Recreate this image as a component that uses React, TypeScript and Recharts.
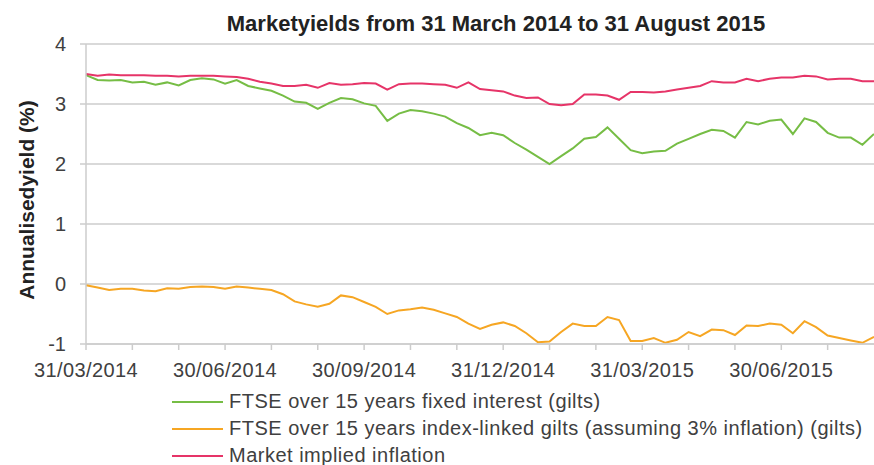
import { CartesianGrid, Line, LineChart, XAxis, YAxis } from "recharts";

// month offsets from 31/03/2014 (one point per quarter month)
const STEP = 0.25;

const fixedInterest = [
  3.48, 3.4, 3.39, 3.4, 3.36, 3.37, 3.32, 3.36, 3.31, 3.4, 3.43, 3.41, 3.34, 3.4, 3.3, 3.26, 3.22,
  3.14, 3.04, 3.02, 2.92, 3.02, 3.1, 3.08, 3.01, 2.97, 2.72, 2.84, 2.9, 2.88, 2.84, 2.79, 2.68, 2.6,
  2.48, 2.52, 2.48, 2.35, 2.24, 2.12, 2.0, 2.13, 2.26, 2.42, 2.45, 2.61, 2.42, 2.23, 2.18, 2.21, 2.22,
  2.34, 2.42, 2.5, 2.57, 2.55, 2.44, 2.7, 2.66, 2.72, 2.74, 2.5, 2.76, 2.7, 2.52, 2.44, 2.44, 2.32, 2.5,
];

const indexLinked = [
  -0.02, -0.06, -0.1, -0.08, -0.08, -0.11, -0.12, -0.07, -0.08, -0.05, -0.04, -0.05, -0.08, -0.04,
  -0.06, -0.08, -0.1, -0.17, -0.29, -0.34, -0.38, -0.33, -0.19, -0.22, -0.3, -0.38, -0.5, -0.44, -0.42,
  -0.39, -0.43, -0.49, -0.55, -0.66, -0.75, -0.68, -0.64, -0.7, -0.82, -0.97, -0.96, -0.8, -0.66, -0.7,
  -0.7, -0.55, -0.6, -0.95, -0.95, -0.9, -0.98, -0.93, -0.8, -0.87, -0.76, -0.77, -0.85, -0.69, -0.7,
  -0.66, -0.68, -0.82, -0.62, -0.72, -0.86, -0.9, -0.94, -0.98, -0.88,
];

const impliedInflation = [
  3.5, 3.47, 3.49, 3.48, 3.48, 3.48, 3.47, 3.47, 3.46, 3.47, 3.47, 3.47, 3.46, 3.45, 3.42, 3.37, 3.34,
  3.3, 3.3, 3.32, 3.27, 3.35, 3.32, 3.33, 3.35, 3.34, 3.24, 3.33, 3.34, 3.34, 3.33, 3.32, 3.27, 3.36,
  3.25, 3.23, 3.21, 3.14, 3.1, 3.11, 3.0, 2.98, 3.0, 3.16, 3.16, 3.14, 3.07, 3.2, 3.2, 3.19, 3.21,
  3.24, 3.27, 3.3, 3.38, 3.36, 3.36, 3.42, 3.38, 3.42, 3.44, 3.44, 3.47, 3.46, 3.41, 3.42, 3.42, 3.38, 3.38,
];

const quarterLabels = ["31/03/2014", "30/06/2014", "30/09/2014", "31/12/2014", "31/03/2015", "30/06/2015"];
const monthTicks = [0, 1, 2, 3, 4, 5, 6, 7, 8, 9, 10, 11, 12, 13, 14, 15, 16];
const yTicks = [-1, 0, 1, 2, 3, 4];

const series = [
  { key: "fixed", name: "FTSE over 15 years fixed interest (gilts)", color: "#76bd45" },
  { key: "linked", name: "FTSE over 15 years index-linked gilts (assuming 3% inflation) (gilts)", color: "#f6a623" },
  { key: "inflation", name: "Market implied inflation", color: "#e63468" },
];

const data = fixedInterest.map((v, i) => ({
  t: i * STEP,
  fixed: v,
  linked: indexLinked[i],
  inflation: impliedInflation[i],
}));

const FONT = '"Liberation Sans", Arial, sans-serif';
const TEXT = "#404040";
const GRID = "#cccccc";

function MonthTick({ x, y, payload }: any) {
  const v = payload.value as number;
  if (v % 3 !== 0) return null;
  return (
    <text
      x={x}
      y={y + 27}
      textAnchor="middle"
      fill={TEXT}
      fontSize={20}
      fontFamily={FONT}
      letterSpacing={0.4}
    >
      {quarterLabels[v / 3]}
    </text>
  );
}

export default function App() {
  return (
    <div style={{ position: "absolute", left: 0, top: 0, width: 874, height: 465, background: "#fff", fontFamily: FONT }}>
      <div
        style={{
          position: "absolute",
          top: 12,
          left: 0,
          width: 992,
          textAlign: "center",
          fontSize: 22,
          fontWeight: "bold",
          color: "#222",
          lineHeight: "23px",
          whiteSpace: "nowrap",
        }}
      >
        Marketyields from 31 March 2014 to 31 August 2015
      </div>
      <LineChart width={874} height={465} data={data} margin={{ top: 44, right: 0, left: 0, bottom: 81 }}>
        <CartesianGrid vertical={false} stroke={GRID} strokeWidth={1.5} />
        <XAxis
          dataKey="t"
          type="number"
          domain={[0, 17]}
          ticks={monthTicks}
          interval={0}
          height={40}
          tick={<MonthTick />}
          tickSize={6}
          tickMargin={0}
          stroke={GRID}
          strokeWidth={1.5}
        />
        <YAxis
          width={86}
          domain={[-1, 4]}
          ticks={yTicks}
          interval={0}
          tickSize={6}
          tickMargin={14}
          tick={{ fill: TEXT, fontSize: 20, fontFamily: FONT }}
          stroke={GRID}
          strokeWidth={1.5}
          label={{
            content: () => (
              <text
                x={0}
                y={0}
                transform="translate(34 200) rotate(-90)"
                textAnchor="middle"
                fill="#222"
                fontSize={21}
                fontWeight="bold"
                fontFamily={FONT}
              >
                Annualisedyield (%)
              </text>
            ),
          }}
        />
        {series.map((s) => (
          <Line
            key={s.key}
            dataKey={s.key}
            name={s.name}
            stroke={s.color}
            strokeWidth={2}
            dot={false}
            type="linear"
            isAnimationActive={false}
          />
        ))}
      </LineChart>
      <div style={{ position: "absolute", left: 172, top: 388, color: TEXT, fontSize: 20, letterSpacing: 0.5 }}>
        {series.map((s) => (
          <div key={s.key} style={{ display: "flex", alignItems: "center", height: 27 }}>
            <div style={{ width: 51, height: 2, background: s.color, marginRight: 6 }} />
            <span style={{ whiteSpace: "nowrap" }}>{s.name}</span>
          </div>
        ))}
      </div>
    </div>
  );
}
